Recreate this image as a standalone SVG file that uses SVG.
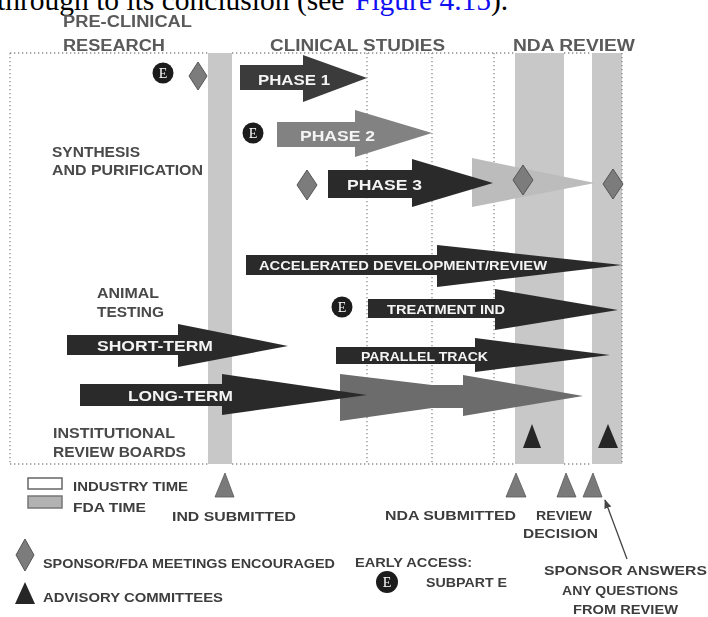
<svg xmlns="http://www.w3.org/2000/svg" width="708" height="617" viewBox="0 0 708 617">
  <defs>
    <filter id="soft" x="-5%" y="-5%" width="110%" height="110%">
      <feGaussianBlur stdDeviation="0.55"/>
    </filter>
    <marker id="head" viewBox="0 0 10 10" refX="9" refY="5" markerWidth="7" markerHeight="7" orient="auto-start-reverse">
      <path d="M0,1 L10,5 L0,9 Z" fill="#444"/>
    </marker>
    <style>
      .band { fill: #c8c8c8; }
      .dot { stroke: #8a8a8a; stroke-width: 1.3; stroke-dasharray: 1.3 2.7; fill: none; }
      .hdr { font-family: "Liberation Sans", Arial, sans-serif; font-weight: bold; font-size: 16px; fill: #5a5a5a; }
      .lbl { font-family: "Liberation Sans", Arial, sans-serif; font-weight: bold; font-size: 14px; fill: #484848; }
      .leg { font-family: "Liberation Sans", Arial, sans-serif; font-weight: bold; font-size: 13px; fill: #3c3c3c; }
      .arr { font-family: "Liberation Sans", Arial, sans-serif; font-weight: bold; font-size: 13px; fill: #f4f4f4; }
      .ph { font-family: "Liberation Sans", Arial, sans-serif; font-weight: bold; font-size: 14px; fill: #f4f4f4; }
      .dark { fill: #2c2c2c; }
      .diam { fill: #7c7c7c; stroke: #555; stroke-width: 1; }
      .mile { fill: #7a7a7a; stroke: #5a5a5a; stroke-width: 0.8; }
      .adv { fill: #262626; }
      .ecirc { fill: #1c1c1c; }
      .etxt { font-family: "Liberation Serif", "Times New Roman", serif; font-size: 14px; fill: #fff; text-anchor: middle; }
      .body { font-family: "Liberation Serif", "Times New Roman", serif; font-size: 29.5px; fill: #000; }
    </style>
  </defs>

  <rect width="708" height="617" fill="#fff"/>

  <!-- running text line cut off at the top edge -->
  <text class="body" x="-3" y="10">through to its conclusion (see <tspan x="355" fill="#1010f0">Figure 4.15</tspan>).</text>

  <g filter="url(#soft)">
    <!-- phase headers -->
    <g id="headers">
      <text class="hdr" x="63" y="27" textLength="129" lengthAdjust="spacingAndGlyphs">PRE-CLINICAL</text>
      <text class="hdr" x="63" y="51" textLength="102" lengthAdjust="spacingAndGlyphs">RESEARCH</text>
      <text class="hdr" x="270" y="51" textLength="175" lengthAdjust="spacingAndGlyphs">CLINICAL STUDIES</text>
      <text class="hdr" x="513" y="51" textLength="122" lengthAdjust="spacingAndGlyphs">NDA REVIEW</text>
    </g>

    <!-- FDA time bands -->
    <g id="bands">
      <rect class="band" x="208" y="53" width="24" height="411"/>
      <rect class="band" x="515" y="53" width="49" height="411"/>
      <rect class="band" x="592" y="53" width="30" height="411"/>
    </g>

    <!-- dotted frame and time gridlines -->
    <g id="grid">
      <path class="dot" d="M10,53 H208 M232,53 H515 M564,53 H592"/>
      <path class="dot" d="M10,464 H208 M232,464 H515 M564,464 H592"/>
      <path class="dot" d="M10,53 V464"/>
      <path class="dot" d="M622,53 V464"/>
      <path class="dot" d="M367,53 V464 M432,53 V464 M494,53 V464"/>
    </g>

    <!-- side labels -->
    <g id="side-labels">
      <text class="lbl" x="52" y="157" textLength="88" lengthAdjust="spacingAndGlyphs">SYNTHESIS</text>
      <text class="lbl" x="52" y="175" textLength="151" lengthAdjust="spacingAndGlyphs">AND PURIFICATION</text>
      <text class="lbl" x="97" y="298" textLength="62" lengthAdjust="spacingAndGlyphs">ANIMAL</text>
      <text class="lbl" x="97" y="317" textLength="67" lengthAdjust="spacingAndGlyphs">TESTING</text>
      <text class="lbl" x="53" y="438" textLength="122" lengthAdjust="spacingAndGlyphs">INSTITUTIONAL</text>
      <text class="lbl" x="53" y="457" textLength="133" lengthAdjust="spacingAndGlyphs">REVIEW BOARDS</text>
    </g>

    <!-- clinical phases -->
    <g id="phase1">
      <path d="M240,65 H303 V55 L367,78 L303,102 V90 H240 Z" fill="#3a3a3a"/>
      <text class="ph" x="258" y="85" textLength="72" lengthAdjust="spacingAndGlyphs">PHASE 1</text>
    </g>
    <g id="phase2">
      <path d="M277,122 H355 V110 L432,133 L355,157 V147 H277 Z" fill="#828282"/>
      <text class="ph" x="300" y="141" textLength="75" lengthAdjust="spacingAndGlyphs">PHASE 2</text>
    </g>
    <g id="phase3">
      <path d="M472,158 L595,183 L472,207 Z" fill="#bcbcbc"/>
      <path d="M328,170 H412 V159 L493,183 L412,207 V198 H328 Z" fill="#2a2a2a"/>
      <text class="ph" x="347" y="190" textLength="75" lengthAdjust="spacingAndGlyphs">PHASE 3</text>
    </g>

    <g id="accelerated">
      <path d="M246,255 H437 V245 L622,265 L437,287 V275 H246 Z" class="dark"/>
      <text class="arr" x="259" y="270" textLength="288" lengthAdjust="spacingAndGlyphs">ACCELERATED  DEVELOPMENT/REVIEW</text>
    </g>
    <g id="treatment-ind">
      <path d="M368,299 H495 V289 L618,310 L495,330 V318 H368 Z" class="dark"/>
      <text class="arr" x="387" y="314" textLength="118" lengthAdjust="spacingAndGlyphs">TREATMENT IND</text>
    </g>
    <g id="parallel-track">
      <path d="M336,347 H475 V338 L610,355 L475,372 V364 H336 Z" class="dark"/>
      <text class="arr" x="361" y="361" textLength="127" lengthAdjust="spacingAndGlyphs">PARALLEL TRACK</text>
    </g>

    <!-- animal testing -->
    <g id="short-term">
      <path d="M67,335 H178 V324 L288,346 L178,367 V355 H67 Z" class="dark"/>
      <text class="ph" x="97" y="351" textLength="116" lengthAdjust="spacingAndGlyphs">SHORT-TERM</text>
    </g>
    <g id="long-term">
      <path d="M340,374 L432,385 H463 V375 L583,396 L463,416 V408 H432 L340,421 Z" fill="#6c6c6c"/>
      <path d="M80,384 H222 V374 L367,395 L222,415 V406 H80 Z" class="dark"/>
      <text class="ph" x="128" y="401" textLength="105" lengthAdjust="spacingAndGlyphs">LONG-TERM</text>
    </g>

    <!-- meetings and early-access markers -->
    <g id="markers">
      <circle class="ecirc" cx="163" cy="73" r="10.5"/>
      <text class="etxt" x="163" y="78">E</text>
      <circle class="ecirc" cx="253" cy="133" r="10.5"/>
      <text class="etxt" x="253" y="138">E</text>
      <circle class="ecirc" cx="342" cy="307" r="10.5"/>
      <text class="etxt" x="342" y="312">E</text>
      <path class="diam" d="M198,62 L207,76 L198,90 L189,76 Z"/>
      <path class="diam" d="M307,170 L317,185 L307,200 L297,185 Z"/>
      <path class="diam" d="M523,165 L533,180 L523,195 L513,180 Z"/>
      <path class="diam" d="M613,169 L623,184 L613,199 L603,184 Z"/>
      <path class="adv" d="M532,424 L541,448 L523,448 Z"/>
      <path class="adv" d="M608,424 L618,448 L598,448 Z"/>
    </g>

    <!-- milestones below the timeline -->
    <g id="milestones">
      <path class="mile" d="M225,473 L234,497 L215,497 Z"/>
      <text class="leg" x="172" y="521" textLength="124" lengthAdjust="spacingAndGlyphs">IND SUBMITTED</text>
      <path class="mile" d="M516,473 L526,497 L506,497 Z"/>
      <path class="mile" d="M566,473 L576,497 L557,497 Z"/>
      <path class="mile" d="M593,473 L602,497 L583,497 Z"/>
      <text class="leg" x="385" y="520" textLength="131" lengthAdjust="spacingAndGlyphs">NDA SUBMITTED</text>
      <text class="leg" x="536" y="520" textLength="56" lengthAdjust="spacingAndGlyphs">REVIEW</text>
      <text class="leg" x="523" y="538" textLength="75" lengthAdjust="spacingAndGlyphs">DECISION</text>
      <text class="leg" x="544" y="575" textLength="163" lengthAdjust="spacingAndGlyphs">SPONSOR ANSWERS</text>
      <text class="leg" x="562" y="595" textLength="116" lengthAdjust="spacingAndGlyphs">ANY QUESTIONS</text>
      <text class="leg" x="573" y="614" textLength="105" lengthAdjust="spacingAndGlyphs">FROM REVIEW</text>
    </g>

    <!-- legend -->
    <g id="legend">
      <rect x="28" y="478" width="34" height="11" fill="#fff" stroke="#666" stroke-width="1.5"/>
      <text class="leg" x="73" y="491" textLength="115" lengthAdjust="spacingAndGlyphs">INDUSTRY TIME</text>
      <rect x="28" y="496" width="34" height="12" fill="#b2b2b2" stroke="#777" stroke-width="1.5"/>
      <text class="leg" x="73" y="512" textLength="73" lengthAdjust="spacingAndGlyphs">FDA TIME</text>
      <path class="diam" d="M25,539 L34,555 L25,571 L16,555 Z"/>
      <text class="leg" x="43" y="568" textLength="292" lengthAdjust="spacingAndGlyphs">SPONSOR/FDA MEETINGS ENCOURAGED</text>
      <path class="adv" d="M25,582 L35,604 L15,604 Z"/>
      <text class="leg" x="43" y="602" textLength="180" lengthAdjust="spacingAndGlyphs">ADVISORY COMMITTEES</text>
      <text class="leg" x="355" y="567" textLength="117" lengthAdjust="spacingAndGlyphs">EARLY ACCESS:</text>
      <circle class="ecirc" cx="387" cy="582" r="11"/>
      <text class="etxt" x="387" y="587">E</text>
      <text class="leg" x="426" y="587" textLength="81" lengthAdjust="spacingAndGlyphs">SUBPART E</text>
    </g>

    <!-- callout connector -->
    <g id="connectors">
      <line x1="627" y1="559" x2="605" y2="500" stroke="#444" stroke-width="1.3" marker-end="url(#head)"/>
    </g>
  </g>
</svg>
